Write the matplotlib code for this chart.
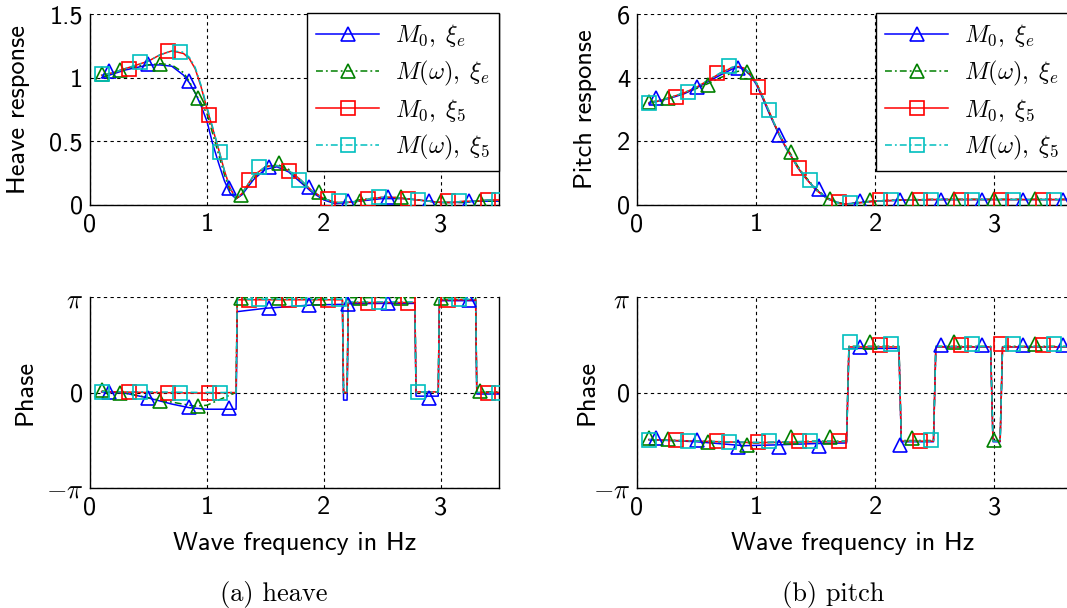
# -*- coding: utf-8 -*-
# Heave / pitch frequency response of the moored body: amplitude and phase

import numpy as np
import matplotlib
matplotlib.use('Agg')
import matplotlib.pyplot as plt

plt.rcParams['mathtext.fontset'] = 'cm'
plt.rcParams['axes.unicode_minus'] = False

PI = np.pi

#%% Data

labels = [r'$M_0,\;\xi_e$', r'$M(\omega),\;\xi_e$', r'$M_0,\;\xi_5$', r'$M(\omega),\;\xi_5$']

# marker positions (Hz) per series, shared by all four panels
mark_x_blue = [0.16, 0.5, 0.85, 1.19, 1.53, 1.87, 2.21, 2.55, 2.9, 3.24, 3.58]
mark_x_green = [0.1, 0.26, 0.6, 0.92, 1.29, 1.62, 1.96, 2.31, 2.66, 3.0, 3.34]
mark_x_red = [0.33, 0.67, 1.02, 1.36, 1.7, 2.04, 2.38, 2.72, 3.06, 3.41]
mark_x_cyan = [0.1, 0.43, 0.77, 1.11, 1.45, 1.79, 2.13, 2.47, 2.81, 3.16, 3.5]

# heave amplitude
heave_freq = [0.1, 0.2, 0.3, 0.4, 0.5, 0.6, 0.7, 0.8, 0.85, 0.9, 0.95, 1.0, 1.05, 1.1,
              1.15, 1.2, 1.25, 1.3, 1.35, 1.4, 1.5, 1.6, 1.7, 1.8, 1.9, 2.0, 2.1, 2.2,
              2.3, 2.4, 2.5, 2.6, 2.7, 2.8, 2.9, 3.0, 3.1, 3.2, 3.3, 3.4, 3.5]
heave_blue = [1.00, 1.03, 1.06, 1.08, 1.10, 1.10, 1.09, 1.02, 0.96, 0.88, 0.78, 0.66, 0.48, 0.33,
              0.19, 0.09, 0.05, 0.08, 0.14, 0.20, 0.28, 0.30, 0.26, 0.18, 0.10, 0.04, 0.01, 0.02,
              0.03, 0.04, 0.05, 0.05, 0.05, 0.04, 0.03, 0.02, 0.02, 0.02, 0.03, 0.03, 0.03]
heave_green = [1.00, 1.04, 1.07, 1.09, 1.10, 1.11, 1.10, 1.04, 0.97, 0.88, 0.80, 0.72, 0.56, 0.40,
               0.24, 0.11, 0.05, 0.08, 0.15, 0.21, 0.30, 0.32, 0.28, 0.19, 0.11, 0.05, 0.02, 0.02,
               0.04, 0.05, 0.06, 0.06, 0.05, 0.04, 0.03, 0.02, 0.02, 0.02, 0.03, 0.03, 0.03]
heave_red = [1.02, 1.04, 1.07, 1.10, 1.13, 1.18, 1.21, 1.19, 1.15, 1.07, 0.93, 0.76, 0.60, 0.44,
             0.27, 0.13, 0.05, 0.09, 0.16, 0.23, 0.30, 0.31, 0.27, 0.20, 0.11, 0.05, 0.02, 0.02,
             0.03, 0.05, 0.06, 0.06, 0.05, 0.04, 0.03, 0.02, 0.02, 0.03, 0.03, 0.04, 0.04]
heave_cyan = [1.02, 1.04, 1.07, 1.10, 1.13, 1.18, 1.21, 1.20, 1.16, 1.08, 0.94, 0.77, 0.61, 0.44,
              0.27, 0.13, 0.05, 0.09, 0.16, 0.23, 0.30, 0.31, 0.27, 0.20, 0.11, 0.05, 0.02, 0.02,
              0.03, 0.05, 0.06, 0.06, 0.05, 0.04, 0.03, 0.02, 0.02, 0.03, 0.03, 0.04, 0.04]
heave_mark_blue = [1.05, 1.11, 0.97, 0.13, 0.30, 0.14, 0.03, 0.06, 0.03, 0.03, 0.03]
heave_mark_green = [1.03, 1.06, 1.11, 0.84, 0.08, 0.33, 0.10, 0.03, 0.06, 0.03, 0.03]
heave_mark_red = [1.07, 1.21, 0.71, 0.20, 0.27, 0.05, 0.05, 0.05, 0.03, 0.04]
heave_mark_cyan = [1.03, 1.12, 1.20, 0.42, 0.30, 0.20, 0.03, 0.06, 0.04, 0.03, 0.04]

# pitch amplitude
pitch_freq = [0.1, 0.2, 0.3, 0.4, 0.5, 0.6, 0.7, 0.8, 0.85, 0.9, 0.95, 1.0, 1.05, 1.1,
              1.15, 1.2, 1.25, 1.3, 1.35, 1.4, 1.5, 1.6, 1.7, 1.75, 1.8, 1.9, 2.0, 2.2,
              2.5, 3.0, 3.5, 3.7]
pitch_blue = [3.20, 3.28, 3.38, 3.50, 3.68, 3.88, 4.08, 4.27, 4.33, 4.26, 4.08, 3.80, 3.40, 2.96,
              2.55, 2.15, 1.80, 1.50, 1.18, 0.92, 0.50, 0.20, 0.06, 0.03, 0.05, 0.09, 0.12, 0.15,
              0.17, 0.17, 0.17, 0.17]
pitch_green = [3.22, 3.30, 3.40, 3.52, 3.66, 3.82, 4.00, 4.15, 4.20, 4.21, 4.12, 3.86, 3.45, 3.00,
               2.58, 2.18, 1.84, 1.55, 1.22, 0.95, 0.52, 0.22, 0.07, 0.03, 0.05, 0.10, 0.13, 0.16,
               0.18, 0.18, 0.18, 0.18]
pitch_red = [3.20, 3.28, 3.40, 3.53, 3.70, 3.92, 4.14, 4.32, 4.35, 4.30, 4.12, 3.84, 3.45, 3.02,
             2.58, 2.18, 1.82, 1.50, 1.17, 0.92, 0.48, 0.19, 0.05, 0.02, 0.04, 0.08, 0.12, 0.15,
             0.17, 0.17, 0.17, 0.17]
pitch_cyan = [3.20, 3.28, 3.40, 3.54, 3.71, 3.93, 4.15, 4.33, 4.36, 4.31, 4.13, 3.85, 3.46, 3.03,
              2.59, 2.19, 1.83, 1.51, 1.18, 0.93, 0.49, 0.19, 0.05, 0.02, 0.04, 0.08, 0.12, 0.15,
              0.17, 0.17, 0.17, 0.17]
pitch_mark_blue = [3.35, 3.72, 4.29, 2.20, 0.50, 0.12, 0.16, 0.17, 0.17, 0.17, 0.17]
pitch_mark_green = [3.25, 3.35, 3.77, 4.19, 1.68, 0.20, 0.17, 0.18, 0.18, 0.18, 0.18]
pitch_mark_red = [3.40, 4.14, 3.70, 1.15, 0.10, 0.15, 0.17, 0.17, 0.17, 0.17]
pitch_mark_cyan = [3.20, 3.56, 4.37, 3.00, 0.79, 0.05, 0.15, 0.17, 0.17, 0.17, 0.17]

# heave phase (rad)
hph_freq_blue = [0.1, 0.3, 0.5, 0.7, 0.85, 1.0, 1.25, 1.26, 1.5, 1.9, 2.16, 2.17, 2.2, 2.21,
                 2.5, 2.78, 2.79, 2.98, 2.99, 3.3, 3.31, 3.5]
hph_blue = [0.02, -0.02, -0.18, -0.38, -0.50, -0.55, -0.55, 2.66, 2.77, 2.88, 2.90, -0.25,
            -0.25, 2.92, 2.93, 2.93, -0.12, -0.12, 3.02, 3.02, -0.05, -0.05]
hph_freq_green = [0.1, 0.3, 0.6, 0.9, 1.0, 1.1, 1.2, 1.25, 1.26, 2.16, 2.17, 2.2, 2.21,
                  2.78, 2.79, 2.98, 2.99, 3.3, 3.31, 3.5]
hph_green = [0.05, -0.02, -0.25, -0.45, -0.42, -0.25, -0.08, 0.0, 3.12, 3.12, 0.0, 0.0, 3.12,
             3.12, 0.02, 0.02, 3.12, 3.12, 0.02, 0.02]
hph_freq = [0.1, 0.5, 1.0, 1.25, 1.26, 1.5, 2.0, 2.16, 2.17, 2.2, 2.21, 2.5, 2.78, 2.79,
            2.98, 2.99, 3.3, 3.31, 3.5]
hph_red = [0.03, 0.0, -0.02, 0.0, 3.05, 3.05, 3.05, 3.05, 0.0, 0.0, 2.96, 2.96, 2.96, 0.02,
           0.02, 3.05, 3.05, 0.0, 0.0]
hph_cyan = [0.03, 0.02, 0.0, 0.0, 3.07, 3.07, 3.07, 3.07, 0.0, 0.0, 2.98, 2.98, 2.98, 0.02,
            0.02, 3.07, 3.07, 0.0, 0.0]
hph_mark_blue = [0.03, -0.19, -0.49, -0.52, 2.77, 2.88, 2.90, 2.93, -0.19, 3.04, -0.05]
hph_mark_green = [0.08, -0.02, -0.27, -0.44, 3.12, 3.12, 3.12, 3.12, 3.12, 3.12, 0.05]
hph_mark_red = [0.03, 0.0, -0.02, 3.04, 3.04, 3.04, 2.96, 2.96, 3.04, 0.0]
hph_mark_cyan = [0.03, 0.03, 0.0, 0.0, 3.06, 3.06, 3.06, 2.98, 0.02, 3.06, 0.0]

# pitch phase (rad)
pph_freq_blue = [0.1, 0.5, 0.9, 1.2, 1.5, 1.76, 1.78, 2.2, 2.22, 2.49, 2.51, 2.97, 2.99,
                 3.05, 3.07, 3.7]
pph_blue = [-1.55, -1.62, -1.75, -1.72, -1.68, -1.66, 1.45, 1.45, -1.62, -1.62, 1.50, 1.50,
            -1.62, -1.62, 1.50, 1.50]
pph_freq = [0.1, 0.5, 1.0, 1.5, 1.76, 1.78, 2.2, 2.22, 2.49, 2.51, 2.97, 2.99, 3.05, 3.07, 3.7]
pph_green = [-1.55, -1.60, -1.66, -1.60, -1.60, 1.52, 1.52, -1.58, -1.58, 1.52, 1.52, -1.58,
             -1.58, 1.52, 1.52]
pph_red = [-1.55, -1.60, -1.65, -1.62, -1.62, 1.50, 1.50, -1.60, -1.60, 1.50, 1.50, -1.60,
           -1.60, 1.50, 1.50]
pph_cyan = [-1.55, -1.60, -1.64, -1.61, -1.61, 1.51, 1.51, -1.60, -1.60, 1.51, 1.51, -1.60,
            -1.60, 1.51, 1.51]
pph_mark_blue = [-1.50, -1.55, -1.78, -1.80, -1.75, 1.50, -1.72, 1.55, 1.55, 1.55, 1.55]
pph_mark_green = [-1.50, -1.52, -1.62, -1.72, -1.48, -1.48, 1.65, -1.50, 1.65, -1.55, 1.60]
pph_mark_red = [-1.55, -1.58, -1.62, -1.58, -1.58, 1.55, -1.60, 1.55, 1.60, 1.55]
pph_mark_cyan = [-1.55, -1.58, -1.62, -1.60, -1.60, 1.65, 1.60, -1.55, 1.60, 1.60, 1.60]

#%% Styles

DASHDOT = (0, (4.5, 2, 1.2, 2))
STYLES = [
    dict(color=(0, 0, 1), ls='-', marker='^'),
    dict(color=(0, 0.5, 0), ls=DASHDOT, marker='^'),
    dict(color=(1, 0, 0), ls='-', marker='s'),
    dict(color=(0, 0.75, 0.75), ls=DASHDOT, marker='s'),
]
MSIZE = {'^': 10, 's': 9.5}
LW = 1.1
GRID_LS = (0, (3, 3))

SANS = 'cmss10'
SERIF = 'cmr10'
FS = 19


def draw_panel(ax, curves, marks, mark_xs):
    '''Lines from (x, y) pairs, open markers on top.'''
    for (cx, cy), my, mx, st in zip(curves, marks, mark_xs, STYLES):
        ax.plot(cx, cy, color=st['color'], ls=st['ls'], lw=LW, zorder=3)
        n = min(len(mx), len(my))
        ax.plot(mx[:n], my[:n], ls='none', marker=st['marker'], ms=MSIZE[st['marker']],
                mfc='none', mec=st['color'], mew=1.2, zorder=4)


def style_axes(ax, xmax, yticks, ylabels, ylabel, label_x):
    ax.set_xlim(0, xmax)
    ax.set_ylim(yticks[0], yticks[-1])
    ax.set_xticks([0, 1, 2, 3], labels=['0', '1', '2', '3'])
    ax.set_yticks(yticks, labels=ylabels)
    for t in ax.get_xticklabels() + ax.get_yticklabels():
        if not t.get_text().startswith('$'):
            t.set_fontfamily(SANS)
        t.set_fontsize(FS)
    ax.tick_params(length=0, pad=6)
    ax.tick_params(axis='y', pad=5)
    ax.grid(True, ls=GRID_LS, color='k', lw=0.8)
    ax.set_axisbelow(True)
    ax.spines['top'].set_visible(False)
    for s in ('left', 'right', 'bottom'):
        ax.spines[s].set_linewidth(1.0)
    ax.set_ylabel(ylabel, fontfamily=SANS, fontsize=FS)
    ax.yaxis.set_label_coords(label_x, 0.5)


def add_legend(ax):
    handles = []
    for lab, st in zip(labels, STYLES):
        h, = ax.plot([], [], color=st['color'], ls=st['ls'], lw=LW, marker=st['marker'],
                     ms=MSIZE[st['marker']], mfc='none', mew=1.2, label=lab)
        handles.append(h)
    leg = ax.legend(handles=handles, loc='upper right', bbox_to_anchor=(1.0, 1.005),
                    borderaxespad=0, fontsize=17.5, numpoints=1, handlelength=2.6,
                    handletextpad=0.65, labelspacing=0.38, borderpad=0.38,
                    fancybox=False, framealpha=1, edgecolor='k')
    leg.get_frame().set_linewidth(1.0)
    leg.set_zorder(10)


#%% Figure

W, H = 1067, 608
fig = plt.figure(figsize=(W / 100, H / 100), dpi=100)

left_l, width_l = 90 / W, 409 / W
left_r, width_r = 637 / W, 431 / W
top_b, bot_b = (H - 205) / H, (H - 488) / H
ax_h = 191 / H

ax1 = fig.add_axes([left_l, top_b, width_l, ax_h])
ax2 = fig.add_axes([left_r, top_b, width_r, ax_h])
ax3 = fig.add_axes([left_l, bot_b, width_l, ax_h])
ax4 = fig.add_axes([left_r, bot_b, width_r, ax_h])

mark_xs = [mark_x_blue, mark_x_green, mark_x_red, mark_x_cyan]

draw_panel(ax1,
           [(heave_freq, heave_blue), (heave_freq, heave_green),
            (heave_freq, heave_red), (heave_freq, heave_cyan)],
           [heave_mark_blue, heave_mark_green, heave_mark_red, heave_mark_cyan], mark_xs)
style_axes(ax1, 3.5, [0, 0.5, 1, 1.5], ['0', '0.5', '1', '1.5'], 'Heave response', -0.147)
add_legend(ax1)

draw_panel(ax2,
           [(pitch_freq, pitch_blue), (pitch_freq, pitch_green),
            (pitch_freq, pitch_red), (pitch_freq, pitch_cyan)],
           [pitch_mark_blue, pitch_mark_green, pitch_mark_red, pitch_mark_cyan], mark_xs)
style_axes(ax2, 3.62, [0, 2, 4, 6], ['0', '2', '4', '6'], 'Pitch response', -0.092)
add_legend(ax2)

phase_ticks = [-PI, 0, PI]
phase_labels = [r'$-\pi$', '0', r'$\pi$']

draw_panel(ax3,
           [(hph_freq_blue, hph_blue), (hph_freq_green, hph_green),
            (hph_freq, hph_red), (hph_freq, hph_cyan)],
           [hph_mark_blue, hph_mark_green, hph_mark_red, hph_mark_cyan], mark_xs)
style_axes(ax3, 3.5, phase_ticks, phase_labels, 'Phase', -0.13)

draw_panel(ax4,
           [(pph_freq_blue, pph_blue), (pph_freq, pph_green),
            (pph_freq, pph_red), (pph_freq, pph_cyan)],
           [pph_mark_blue, pph_mark_green, pph_mark_red, pph_mark_cyan], mark_xs)
style_axes(ax4, 3.62, phase_ticks, phase_labels, 'Phase', -0.09)

for ax in (ax3, ax4):
    ax.set_xlabel('Wave frequency in Hz', fontfamily=SANS, fontsize=FS, labelpad=9)

fig.text(273.5 / W, 1 - 594 / H, '(a) heave', ha='center', va='center',
         fontfamily=SERIF, fontsize=19)
fig.text(833 / W, 1 - 594 / H, '(b) pitch', ha='center', va='center',
         fontfamily=SERIF, fontsize=19)

fig.savefig('out.png', dpi=100)
plt.close(fig)
